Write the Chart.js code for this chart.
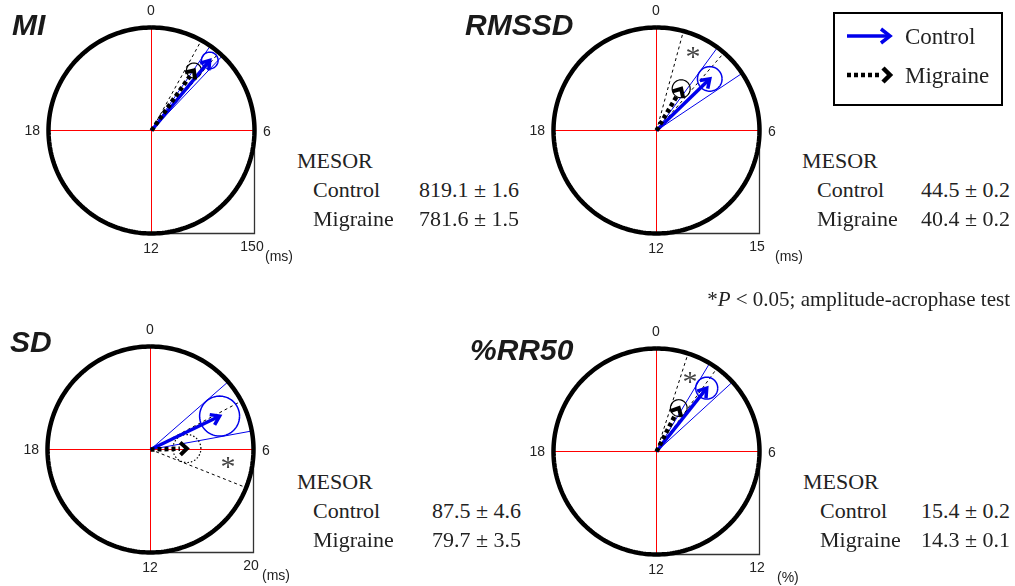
<!DOCTYPE html>
<html><head><meta charset="utf-8">
<script src="https://cdn.jsdelivr.net/npm/chart.js@4/dist/chart.umd.min.js"></script>
<style>
html,body{margin:0;padding:0;background:#fff;}
body{width:1015px;height:586px;position:relative;overflow:hidden;}
.t{position:absolute;white-space:nowrap;line-height:1;}
.sans{font-family:"Liberation Sans",Arial,sans-serif;color:#222;}
.serif{font-family:"Liberation Serif","Times New Roman",serif;color:#222;}
.title{font-family:"Liberation Sans",Arial,sans-serif;font-weight:bold;font-style:italic;color:#1a1a1a;}
canvas{position:absolute;}
</style></head><body>
<script>
// ---------- data ----------
const panelNames = ['MI', 'RMSSD', 'SD', '%RR50'];
const scaleMax = [150, 15, 20, 12];          // radius of the outer circle
const scaleUnits = ['(ms)', '(ms)', '(ms)', '(%)'];
const clockTicks = ['0', '6', '12', '18'];    // hours at top/right/bottom/left
const controlAmplitude = [132.7, 10.8, 14.9, 9.42];
const controlAcrophase = [2.65, 3.06, 4.28, 2.56];   // hours
const controlRadius = [12.1, 1.79, 3.88, 1.28];
const controlPhaseLow = [2.32, 2.42, 3.26, 2.07];
const controlPhaseHigh = [2.9, 3.75, 5.31, 3.17];
const migraineAmplitude = [107, 7.06, 7.07, 5.69];
const migraineAcrophase = [2.35, 2.04, 5.9, 1.81];
const migraineRadius = [10.9, 1.31, 2.72, 0.97];
const migrainePhaseLow = [1.93, 1.01, 4.13, 1.19];
const migrainePhaseHigh = [2.73, 2.73, 7.45, 2.4];
const mesorControl = ['819.1 ± 1.6', '44.5 ± 0.2', '87.5 ± 4.6', '15.4 ± 0.2'];
const mesorMigraine = ['781.6 ± 1.5', '40.4 ± 0.2', '79.7 ± 3.5', '14.3 ± 0.1'];
const significant = [false, true, true, true];

// ---------- layout ----------
const R_PX = 103, HALF = 130.5, SIZE = 261;
const layout = [
  {cx:151, cy:130, tx:12,  tb:35,  mx:297, lx:313, vr:519,  mb:168, ast:null,      ux:265, dotted:false},
  {cx:656, cy:130, tx:465, tb:35,  mx:802, lx:817, vr:1010, mb:168, ast:[693,52],  ux:775, dotted:false},
  {cx:150, cy:449, tx:10,  tb:352, mx:297, lx:313, vr:521,  mb:489, ast:[228,462], ux:262, dotted:true},
  {cx:656, cy:451, tx:470, tb:360, mx:803, lx:820, vr:1010, mb:489, ast:[690,377], ux:777, dotted:false}
];
const BLUE = 'rgb(0,0,235)', RED = '#ff0000', BLACK = '#000';
const SOLID = [10000, 0];   // forces Chart.js to use the regular (non-fast) path

function txt(str, x, base, size, cls, align, html){
  const d = document.createElement('div');
  d.className = 't ' + cls;
  d.style.fontSize = size + 'px';
  d.style.left = x + 'px';
  d.style.top = (base - 0.84*size) + 'px';
  if (align === 'center') d.style.transform = 'translateX(-50%)';
  if (align === 'right') d.style.transform = 'translateX(-100%)';
  if (html) d.innerHTML = str; else d.textContent = str;
  document.body.appendChild(d);
  return d;
}
function pol(r, h){ const a = h*Math.PI/12; return {x:r*Math.sin(a), y:r*Math.cos(a)}; }
function ring(c, r, n){ const p=[]; for(let i=0;i<=n;i++){const t=i/n*2*Math.PI; p.push({x:c.x+r*Math.cos(t), y:c.y+r*Math.sin(t)});} return p; }
function line(data, color, width, dash, join){
  return {data, showLine:true, borderColor:color, borderWidth:width, borderDash:dash||SOLID,
    pointRadius:0, fill:false, clip:false, borderCapStyle:'butt', borderJoinStyle:join||'miter'};
}
function head(amp, ph, len, ang){
  const tip = pol(amp, ph), a = ph*Math.PI/12;
  const ux = Math.sin(a), uy = Math.cos(a);
  const w = s => { const c=Math.cos(s), sn=Math.sin(s);
    const dx = ux*c - uy*sn, dy = ux*sn + uy*c;
    return {x: tip.x - len*dx, y: tip.y - len*dy}; };
  return [w(ang), tip, w(-ang)];
}

panelNames.forEach((name, i) => {
  const L = layout[i], S = scaleMax[i], k = S / R_PX, H = S*HALF/R_PX;
  const cv = document.createElement('canvas');
  cv.width = SIZE; cv.height = SIZE;
  cv.style.left = (L.cx - 130) + 'px'; cv.style.top = (L.cy - 130) + 'px';
  cv.style.width = SIZE + 'px'; cv.style.height = SIZE + 'px';
  document.body.appendChild(cv);
  const O = {x:0, y:0};
  const outer = [], full = S*0.985;
  for (let j=0;j<=240;j++) outer.push(pol(S, j/10));
  const cA = controlAmplitude[i], cP = controlAcrophase[i];
  const mA = migraineAmplitude[i], mP = migraineAcrophase[i];
  const shaft = (A, P, back) => [O, pol(A - back*k, P)];
  const bottomUp = [
    line([{x:-S,y:0},{x:S,y:0}], RED, 1),
    line([{x:0,y:S},{x:0,y:-S}], RED, 1),
    line([{x:S,y:0},{x:S,y:-S},{x:0,y:-S}], '#333', 1.3),
    line([O, pol(full, controlPhaseLow[i])], BLUE, 1),
    line([O, pol(full, controlPhaseHigh[i])], BLUE, 1),
    line([O, pol(full, migrainePhaseLow[i])], BLACK, 1, [3,3]),
    line([O, pol(full, migrainePhaseHigh[i])], BLACK, 1, [3,3]),
    line(ring(pol(cA, cP), controlRadius[i], 80), BLUE, 1.5, null, 'round'),
    line(ring(pol(mA, mP), migraineRadius[i], 80), BLACK, 1.2, L.dotted ? [1.5,2] : null, 'round'),
    line(shaft(cA, cP, 2), BLUE, 3.5),
    line(head(cA, cP, 10*k, 0.6), BLUE, 3.5),
    line(shaft(mA, mP, 7), BLACK, 4.5, [4,3]),
    line(head(mA, mP, 9*k, 0.75), BLACK, 4),
    line(outer, BLACK, 4.5, null, 'round')
  ];
  new Chart(cv, {
    type: 'scatter',
    data: { datasets: bottomUp.slice().reverse() },
    options: {
      responsive:false, animation:false, events:[], devicePixelRatio:1,
      layout:{padding:0},
      plugins:{legend:{display:false}, tooltip:{enabled:false}},
      scales:{
        x:{type:'linear', display:false, min:-H, max:H},
        y:{type:'linear', display:false, min:-H, max:H}
      },
      elements:{point:{radius:0}, line:{tension:0}}
    }
  });
  // texts
  txt(name, L.tx, L.tb, 30, 'title');
  txt(clockTicks[0], L.cx, L.cy - R_PX - 12, 14, 'sans', 'center');
  txt(clockTicks[1], L.cx + R_PX + 9, L.cy + 6, 14, 'sans');
  txt(clockTicks[2], L.cx, L.cy + R_PX + 20, 14, 'sans', 'center');
  txt(clockTicks[3], L.cx - R_PX - 8, L.cy + 5, 14, 'sans', 'right');
  txt(String(S), L.cx + R_PX - 2, L.cy + R_PX + 18, 14, 'sans', 'center');
  txt(scaleUnits[i], L.ux, L.cy + R_PX + 28, 14, 'sans');
  txt('MESOR', L.mx, L.mb, 22, 'serif');
  txt('Control', L.lx, L.mb + 29, 22, 'serif');
  txt(mesorControl[i], L.vr, L.mb + 29, 22, 'serif', 'right');
  txt('Migraine', L.lx, L.mb + 58, 22, 'serif');
  txt(mesorMigraine[i], L.vr, L.mb + 58, 22, 'serif', 'right');
  if (significant[i] && L.ast) { const a = txt('*', L.ast[0], L.ast[1] + 14, 30, 'serif', 'center'); a.style.color = '#444'; }
});

// footnote
txt('*<i>P</i> &lt; 0.05; amplitude-acrophase test', 1010, 307, 21, 'serif', 'right', true);

// legend
const lg = document.createElement('div');
lg.style.cssText = 'position:absolute;left:833px;top:12px;width:166px;height:90px;border:2px solid #000;';
document.body.appendChild(lg);
const svgNS = 'http://www.w3.org/2000/svg';
const svg = document.createElementNS(svgNS, 'svg');
svg.setAttribute('width', 1015); svg.setAttribute('height', 586);
svg.style.cssText = 'position:absolute;left:0;top:0;';
svg.innerHTML =
  '<line x1="847" y1="36" x2="889" y2="36" stroke="' + BLUE + '" stroke-width="3.5"/>' +
  '<polyline points="881,29 890,36 881,43" fill="none" stroke="' + BLUE + '" stroke-width="3.5" stroke-linejoin="miter"/>' +
  '<line x1="847" y1="75" x2="880" y2="75" stroke="#000" stroke-width="4.5" stroke-dasharray="4 3"/>' +
  '<polyline points="883,68 890,75 883,82" fill="none" stroke="#000" stroke-width="4.5" stroke-linejoin="miter"/>';
document.body.appendChild(svg);
txt('Control', 905, 44, 23, 'serif');
txt('Migraine', 905, 83, 23, 'serif');
</script>
</body></html>
